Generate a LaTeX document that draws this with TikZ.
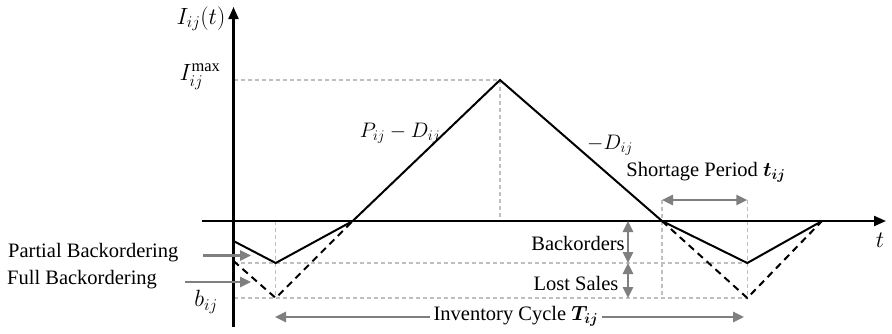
\RequirePackage{fix-cm}
\documentclass[tikz,border=0pt]{standalone}
\usepackage{fontspec}
\setmainfont{Liberation Serif}
\usepackage{amsmath,bm}
\usetikzlibrary{arrows.meta}
\definecolor{arrowgray}{HTML}{7F7F7F}
\definecolor{guidegray}{HTML}{BFBFBF}
\tikzset{
  axisline/.style={line width=2.2pt, -{Triangle[length=12pt,width=10pt]}},
  curve/.style={line width=2pt, line join=miter},
  fullback/.style={line width=2pt, dash pattern=on 7pt off 5pt},
  guide/.style={guidegray, line width=1.2pt, dash pattern=on 4pt off 3pt},
  garrow/.style={arrowgray, line width=2.5pt, -{Triangle[length=11pt,width=10pt]}},
  gdarrow/.style={arrowgray, line width=2.5pt, {Triangle[length=11pt,width=10pt]}-{Triangle[length=11pt,width=10pt]}},
  lbl/.style={inner sep=0pt, font=\fontsize{20.5}{24}\selectfont},
  mlbl/.style={inner sep=0pt, font=\fontsize{21}{24}\selectfont},
  blbl/.style={inner sep=0pt, font=\fontsize{23.5}{27}\selectfont},
}
\begin{document}
\begin{tikzpicture}[x=1pt,y=-1pt]
\useasboundingbox (0,0) rectangle (892,333);
% coordinates
\coordinate (ytop) at (233.5,7);
\coordinate (ybot) at (233.5,327);
\coordinate (xl) at (201.5,221);
\coordinate (xr) at (886,221);
\coordinate (A) at (233.5,241);
\coordinate (B) at (275.7,263);
\coordinate (C) at (352.7,221);
\coordinate (Pk) at (500,80);
\coordinate (Pk0) at (500,221);
\coordinate (Ymax) at (233.5,80);
\coordinate (E) at (662,221);
\coordinate (F) at (747.3,263);
\coordinate (G) at (822,221);
\coordinate (DA) at (233.5,261);
\coordinate (DB) at (275.7,298);
\coordinate (DF) at (747.3,298);
\coordinate (B0) at (275.7,221);
\coordinate (L1a) at (233.5,263);
\coordinate (L2a) at (233.5,298);
\coordinate (Etop) at (662,200);
\coordinate (Ftop) at (747.3,200);
\coordinate (Ebot) at (662,298);
% guides
\draw[guide] (Ymax) -- (Pk);
\draw[guide] (Pk) -- (Pk0);
\draw[guide] (L1a) -- (F);
\draw[guide] (L2a) -- (DF);
\draw[guide] (B0) -- (DB);
\draw[guide] (Etop) -- (Ebot);
\draw[guide] (Ftop) -- (DF);
% axes
\draw[axisline] (ybot) -- (ytop);
\draw[axisline] (xl) -- (xr);
% curves
\draw[curve] (A) -- (B) -- (C) -- (Pk) -- (E) -- (F) -- (G);
\draw[fullback] (DA) -- (DB) -- (C);
\draw[fullback] (E) -- (DF) -- (G);
% labels
\node[blbl] (ylab) at (201,19) {$I_{ij}(t)$};
\node[blbl] (imax) at (200,77) {$I_{ij}^{\mathrm{max}}$};
\node[mlbl] (pd) at (400,133) {$P_{ij}-D_{ij}$};
\node[mlbl] (md) at (610,145) {$-D_{ij}$};
\node[blbl] (tl) at (880,240) {$t$};
\node[blbl] (bij) at (206,302) {$b_{ij}$};
\node[lbl] (short) at (706,172) {Shortage Period $\bm{t_{ij}}$};
\node[lbl] (bo) at (578,243) {Backorders};
\node[lbl] (ls) at (576,283) {Lost Sales};
\node[lbl, inner sep=3pt] (inv) at (516,316) {Inventory Cycle $\bm{T_{ij}}$};
\node[lbl, anchor=west] (pb) at (8,253) {Partial Backordering};
\node[lbl, anchor=west] (fb) at (7,280) {Full Backordering};
% arrows
\coordinate (pbs) at (203,255.5);
\coordinate (pbe) at (251,255.5);
\coordinate (fbs) at (185,282);
\coordinate (fbe) at (251,282);
\draw[garrow] (pbs) -- (pbe);
\draw[garrow] (fbs) -- (fbe);
\coordinate (bo1) at (628,221);
\coordinate (bo2) at (628,263);
\coordinate (bo3) at (628,298);
\draw[gdarrow] (bo1) -- (bo2);
\draw[gdarrow] (bo2) -- (bo3);
\coordinate (sh1) at (662,200);
\coordinate (sh2) at (747.3,200);
\draw[gdarrow] (sh1) -- (sh2);
\coordinate (inl) at (275,317);
\coordinate (inr) at (744,317);
\draw[garrow] (inv.west |- inl) -- (inl);
\draw[garrow] (inv.east |- inr) -- (inr);
\end{tikzpicture}
\end{document}
